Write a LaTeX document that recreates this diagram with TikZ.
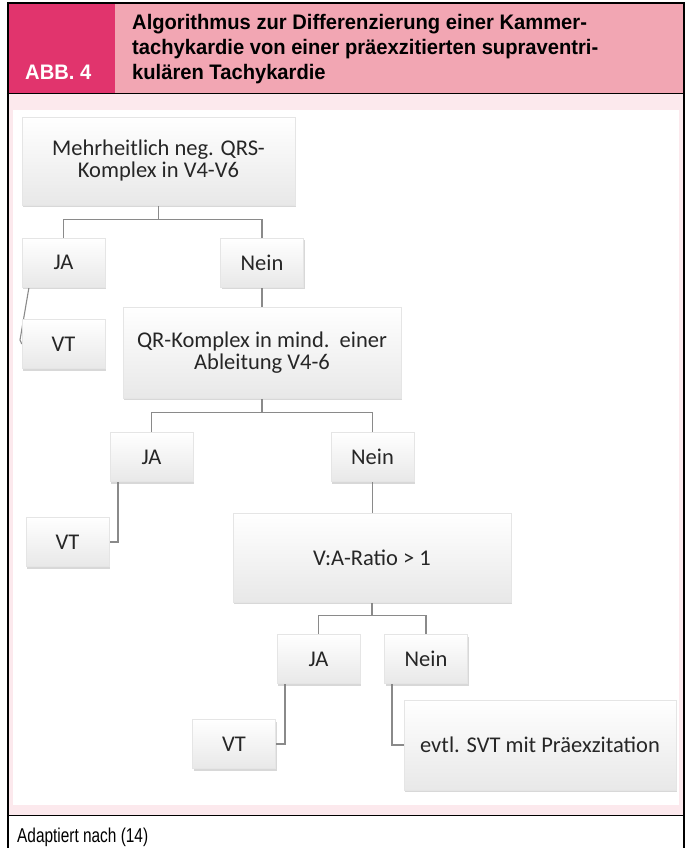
\documentclass[tikz,border=0pt]{standalone}
\usepackage{fontspec}
\setmainfont{Carlito}
\newfontfamily\kopffont[FakeStretch=0.96]{Liberation Sans}
\newfontfamily\fussfont[FakeStretch=0.77]{Liberation Sans}
\usetikzlibrary{shadows,backgrounds}
\definecolor{abbrot}{RGB}{225,52,109}
\definecolor{kopfrosa}{RGB}{242,166,179}
\definecolor{feldrosa}{RGB}{252,233,237}
\definecolor{liniengrau}{RGB}{138,138,138}
\pgfdeclarelayer{verbinder}
\pgfsetlayers{background,verbinder,main}
\tikzset{
  kasten/.style={draw=gray!20, top color=white, bottom color=black!9, text=black!85,
    font=\fontsize{22.5}{22}\selectfont, align=center, inner sep=0pt,
    drop shadow={shadow xshift=1pt, shadow yshift=-2pt, opacity=0.3}},
  klein/.style={kasten, minimum width=83pt, minimum height=49pt},
  linie/.style={draw=liniengrau, line width=1.1pt},
  kopftext/.style={anchor=base west, inner sep=0pt, align=left,
    font=\kopffont\bfseries\fontsize{21}{24.75}\selectfont},
  fusstext/.style={anchor=base west, inner sep=0pt,
    font=\fussfont\fontsize{20}{24}\selectfont},
}
\begin{document}
\begin{tikzpicture}[x=1pt, y=-1pt]
  \useasboundingbox (0,0) rectangle (688,848);

  % Rahmen und Kopfzeile
  \begin{pgfonlayer}{background}
    \fill[abbrot] (8,3) rectangle (115,94);
    \fill[kopfrosa] (115,3) rectangle (684,94);
    \fill[feldrosa] (8,94) rectangle (684,815);
    \fill[white] (13,110) rectangle (679,805);
    \draw[line width=1.2pt] (8,848) -- (8,3) -- (684,3) -- (684,848);
    \draw[line width=1pt] (8,94) -- (684,94) (8,815) -- (684,815);
  \end{pgfonlayer}

  \node[kopftext, text=white] (abb) at (25,79.5) {ABB. 4};
  \node[kopftext] (titel) at (132,79.5) {Algorithmus zur Differenzierung einer Kammer-\\
    tachykardie von einer präexzitierten supraventri-\\
    kulären Tachykardie};
  \node[fusstext] (quelle) at (17,842) {Adaptiert nach (14)};

  % Kaesten
  \node[kasten, minimum width=273pt, minimum height=88pt] (frage1) at (158.5,161) {Mehrheitlich neg. QRS-\\Komplex in V4-V6};
  \node[klein] (ja1) at (63.5,262.5) {JA};
  \node[klein] (nein1) at (262,262.5) {Nein};
  \node[klein] (vt1) at (63.5,344) {VT};
  \node[kasten, minimum width=278pt, minimum height=91pt] (frage2) at (262,352.5) {QR-Komplex in mind.\ \ einer\\Ableitung V4-6};
  \node[klein] (ja2) at (151.5,457) {JA};
  \node[klein] (nein2) at (372.5,457) {Nein};
  \node[klein] (vt2) at (67.5,542) {VT};
  \node[kasten, minimum width=278pt, minimum height=89pt] (frage3) at (372,557.5) {V:A-Ratio > 1};
  \node[klein] (ja3) at (318.5,659) {JA};
  \node[klein] (nein3) at (426,659) {Nein};
  \node[klein] (vt3) at (234,744) {VT};
  \node[kasten, minimum width=272pt, minimum height=90pt] (svt) at (540,745) {evtl. SVT mit Präexzitation};

  % Verbindungen
  \begin{pgfonlayer}{verbinder}
    \draw[linie] (frage1.south) -- ++(0,14) -| (ja1.north);
    \draw[linie] (frage1.south) -- ++(0,14) -| (nein1.north);
    \draw[linie] ([xshift=-34.5pt]ja1.south) -- (20,340) -- (vt1.west);
    \draw[linie] (nein1.south) -- (nein1.south |- frage2.north);
    \draw[linie] (frage2.south) -- ++(0,14) -| (ja2.north);
    \draw[linie] (frage2.south) -- ++(0,14) -| (nein2.north);
    \draw[linie] ([xshift=-33.5pt]ja2.south) |- (vt2.east);
    \draw[linie] (nein2.south) -- (nein2.south |- frage3.north);
    \draw[linie] (frage3.south) -- ++(0,13) -| (ja3.north);
    \draw[linie] (frage3.south) -- ++(0,13) -| (nein3.north);
    \draw[linie] ([xshift=-33.5pt]ja3.south) |- (vt3.east);
    \draw[linie] ([xshift=-34pt]nein3.south) |- (svt.west);
  \end{pgfonlayer}
\end{tikzpicture}
\end{document}
